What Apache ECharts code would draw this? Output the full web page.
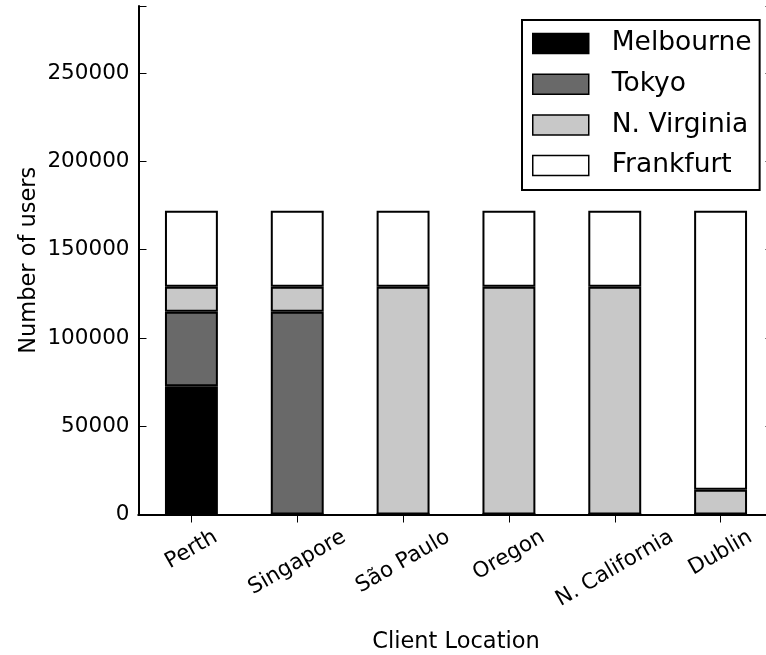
<!DOCTYPE html>
<html>
<head>
<meta charset="utf-8">
<script src="https://cdn.jsdelivr.net/npm/echarts@6/dist/echarts.min.js"></script>
<style>
html,body{margin:0;padding:0;background:#fff;}
#chart{width:766px;height:655px;}
</style>
</head>
<body>
<div id="chart"></div>
<script>
var categories = ['Perth', 'Singapore', 'São Paulo', 'Oregon', 'N. California', 'Dublin'];
var melbourne = [72600, 0, 0, 0, 0, 0];
var tokyo = [42200, 114800, 0, 0, 0, 0];
var nVirginia = [14200, 14200, 129000, 129000, 129000, 14000];
var frankfurt = [43100, 43100, 43100, 43100, 43100, 158100];
var seriesNames = ['Melbourne', 'Tokyo', 'N. Virginia', 'Frankfurt'];
var yTicks = [0, 50000, 100000, 150000, 200000, 250000];

var FONT = 'DejaVu Sans';
var TICK_FS = 21.5;
var cv = document.createElement('canvas').getContext('2d');
cv.font = TICK_FS + 'px "' + FONT + '"';

// rich styles: shift each rotated label so its bounding box is centred under the tick
var rich = {};
categories.forEach(function (c, i) {
  var w = cv.measureText(c).width;
  rich['p' + i] = {
    fontFamily: FONT, fontSize: TICK_FS, color: '#000',
    padding: [0.433 * w, w / 4, 0, 0]
  };
});

var colors = ['#000000', '#696969', '#c8c8c8', '#ffffff'];
var values = [melbourne, tokyo, nVirginia, frankfurt];

var chart = echarts.init(document.getElementById('chart'), null, { renderer: 'canvas' });
var axisLineStyle = { color: '#000', width: 2 };
var tickStyle = { color: '#000', width: 1 };
var option = {
  animation: false,
  backgroundColor: '#fff',
  textStyle: { fontFamily: FONT, color: '#000' },
  grid: { left: 138.5, right: -7.5, top: 6, bottom: 140.5, containLabel: false, outerBoundsMode: 'none' },
  legend: {
    left: 522, top: 20,
    orient: 'vertical',
    icon: 'rect',
    itemWidth: 56, itemHeight: 20, itemGap: 13.7,
    padding: [10, 8, 11, 10],
    borderColor: '#000', borderWidth: 2,
    backgroundColor: '#fff',
    itemStyle: { borderColor: '#000', borderWidth: 1.5 },
    textStyle: { fontFamily: FONT, fontSize: 26.5, color: '#000', padding: [0, 0, 0, 18] },
    data: seriesNames
  },
  xAxis: [{
    type: 'category',
    data: categories,
    position: 'bottom',
    name: 'Client Location',
    nameLocation: 'middle',
    nameGap: 116,
    nameMoveOverlap: false,
    nameTextStyle: { fontFamily: FONT, fontSize: 22.5, color: '#000' },
    axisLine: { show: true, lineStyle: axisLineStyle },
    axisTick: { show: true, inside: true, alignWithLabel: true, length: 8, lineStyle: tickStyle },
    axisLabel: {
      interval: 0, rotate: 30, margin: 21, align: 'center', verticalAlign: 'middle',
      fontFamily: FONT, fontSize: TICK_FS, color: '#000', hideOverlap: false,
      formatter: function (v, i) { return '{p' + i + '|' + v + '}'; },
      rich: rich
    },
    splitLine: { show: false }
  }, {
    type: 'category',
    data: categories,
    position: 'top',
    axisLine: { show: true, lineStyle: axisLineStyle },
    axisTick: { show: true, inside: true, alignWithLabel: true, length: 8, lineStyle: tickStyle },
    axisLabel: { show: false },
    splitLine: { show: false }
  }],
  yAxis: [{
    type: 'value',
    min: 0, max: 288000, interval: 50000,
    position: 'left',
    name: 'Number of users',
    nameLocation: 'middle',
    nameRotate: 90,
    nameGap: 98,
    nameMoveOverlap: false,
    nameTextStyle: { fontFamily: FONT, fontSize: 22.5, color: '#000' },
    axisLine: { show: true, lineStyle: axisLineStyle },
    axisTick: { show: true, inside: true, length: 8, lineStyle: tickStyle },
    axisLabel: {
      margin: 9, fontFamily: FONT, fontSize: TICK_FS, color: '#000',
      formatter: function (v) { return yTicks.indexOf(v) >= 0 ? String(v) : ''; }
    },
    splitLine: { show: false }
  }, {
    type: 'value',
    min: 0, max: 288000, interval: 50000,
    position: 'right',
    axisLine: { show: true, lineStyle: axisLineStyle },
    axisTick: { show: true, inside: true, length: 8, lineStyle: tickStyle },
    axisLabel: { show: false },
    splitLine: { show: false }
  }],
  series: seriesNames.map(function (n, i) {
    return {
      name: n,
      type: 'bar',
      stack: 'total',
      barWidth: '50%',
      data: values[i],
      itemStyle: { color: colors[i], borderColor: '#000', borderWidth: 2 },
      emphasis: { disabled: true }
    };
  })
};
chart.setOption(option);
</script>
</body>
</html>
